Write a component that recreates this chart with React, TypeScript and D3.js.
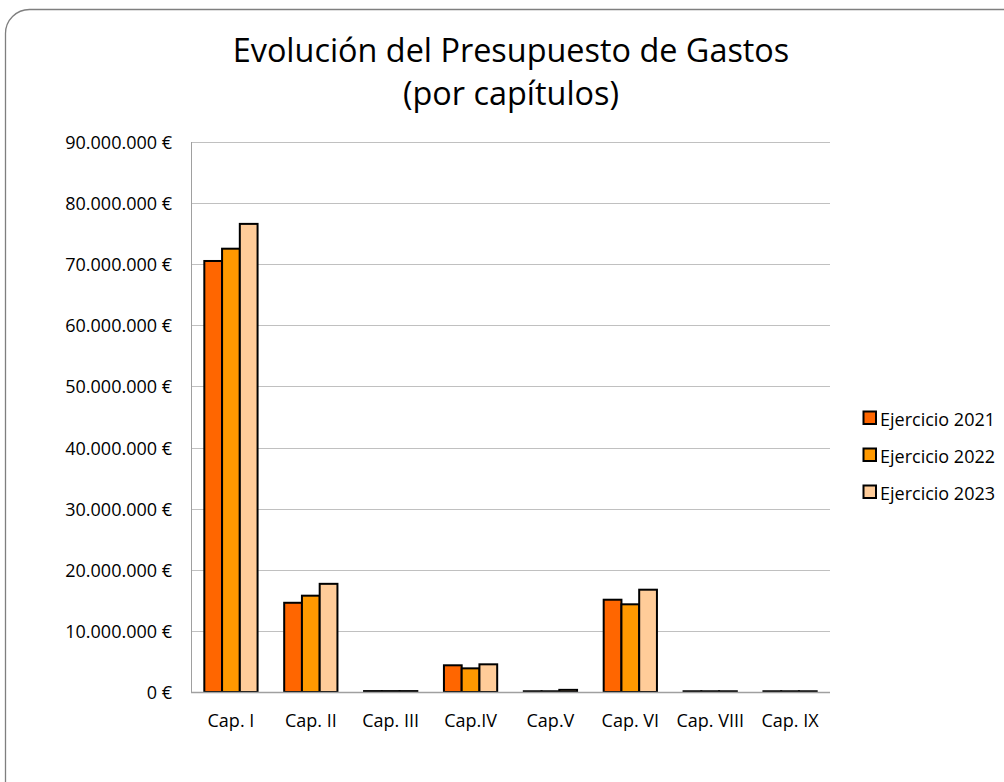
import React from "react";
import * as d3 from "d3";

const categories = ["Cap. I", "Cap. II", "Cap. III", "Cap.IV", "Cap.V", "Cap. VI", "Cap. VIII", "Cap. IX"];
const seriesNames = ["Ejercicio 2021", "Ejercicio 2022", "Ejercicio 2023"];
const values2021 = [70530000, 14600000, 150000, 4370000, 120000, 15100000, 120000, 120000];
const values2022 = [72540000, 15760000, 150000, 3870000, 120000, 14350000, 120000, 120000];
const values2023 = [76600000, 17700000, 150000, 4530000, 350000, 16740000, 120000, 120000];
const seriesColors = ["#FF6600", "#FF9900", "#FFCC99"];
const yTicks = [0, 10000000, 20000000, 30000000, 40000000, 50000000, 60000000, 70000000, 80000000, 90000000];
const titleLines = ["Evolución del Presupuesto de Gastos", "(por capítulos)"];

const W = 1004;
const H = 782;
const plot = { left: 191, right: 830, top: 142, bottom: 692 };
const FONT = "'Open Sans', 'DejaVu Sans', sans-serif";

const locale = d3.formatLocale({ decimal: ",", thousands: ".", grouping: [3], currency: ["", " €"] });
const fmt = (v: number) => locale.format(",.0f")(v) + " €";

export default function App() {
  const series = [values2021, values2022, values2023];
  const x0 = d3.scaleBand<string>().domain(categories).range([plot.left, plot.right]).paddingInner(0).paddingOuter(0);
  const groupW = x0.bandwidth() * (3 / 4.5);
  const x1 = d3.scaleBand<number>().domain([0, 1, 2]).range([0, groupW]).padding(0);
  const y = d3.scaleLinear().domain([0, 90000000]).range([plot.bottom, plot.top]);
  const legendY = [418, 455, 492];

  return (
    <svg width={W} height={H} style={{ position: "absolute", left: 0, top: 0, background: "#fff" }}>
      <rect x={5.5} y={9.5} width={W + 20} height={H + 20} rx={24} ry={24} fill="#fff" stroke="#7f7f7f" strokeWidth={1.3} />
      {titleLines.map((t, i) => (
        <text key={i} x={511} y={62 + i * 43} textAnchor="middle" fontFamily={FONT} fontSize={32.4} fill="#000">
          {t}
        </text>
      ))}
      {yTicks.map((t) => (
        <g key={t}>
          {t > 0 && (
            <line x1={plot.left} x2={plot.right} y1={Math.round(y(t)) + 0.5} y2={Math.round(y(t)) + 0.5} stroke="#c0c0c0" strokeWidth={1} />
          )}
          <text x={172} y={y(t) + 7} textAnchor="end" fontFamily={FONT} fontSize={18} fill="#000">
            {fmt(t)}
          </text>
        </g>
      ))}
      <line x1={plot.left + 0.5} x2={plot.left + 0.5} y1={plot.top} y2={plot.bottom} stroke="#a0a0a0" strokeWidth={1} />
      {categories.map((c, ci) => {
        const gx = (x0(c) as number) + (x0.bandwidth() - groupW) / 2;
        return (
          <g key={c}>
            {series.map((s, si) => {
              const v = s[ci];
              const top = y(v);
              return (
                <rect
                  key={si}
                  x={gx + (x1(si) as number)}
                  y={top}
                  width={x1.bandwidth()}
                  height={plot.bottom - top}
                  fill={seriesColors[si]}
                  stroke="#000"
                  strokeWidth={2}
                />
              );
            })}
            <text x={(x0(c) as number) + x0.bandwidth() / 2} y={727} textAnchor="middle" fontFamily={FONT} fontSize={18} fill="#000">
              {c}
            </text>
          </g>
        );
      })}
      <line x1={plot.left} x2={plot.right} y1={plot.bottom + 0.5} y2={plot.bottom + 0.5} stroke="#a0a0a0" strokeWidth={1.5} />
      {seriesNames.map((n, i) => (
        <g key={n}>
          <rect x={863.5} y={legendY[i] - 6.5} width={12.5} height={12.5} fill={seriesColors[i]} stroke="#000" strokeWidth={2} />
          <text x={880} y={legendY[i] + 8} fontFamily={FONT} fontSize={18} fill="#000">
            {n}
          </text>
        </g>
      ))}
    </svg>
  );
}
